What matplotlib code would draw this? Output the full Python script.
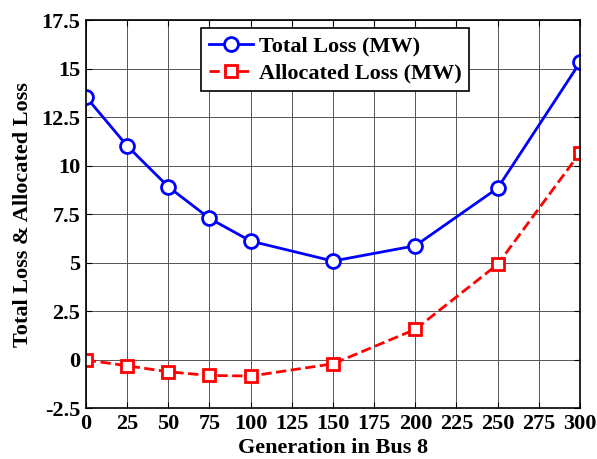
import matplotlib
matplotlib.use("Agg")
import matplotlib.pyplot as plt

gen = [0, 25, 50, 75, 100, 150, 200, 250, 300]
total_loss = [13.55, 11.02, 8.91, 7.28, 6.11, 5.08, 5.87, 8.84, 15.32]
allocated_loss = [-0.02, -0.32, -0.63, -0.82, -0.85, -0.22, 1.56, 4.91, 10.66]
xticks = list(range(0, 301, 25))
yticks = [-2.5, 0, 2.5, 5, 7.5, 10, 12.5, 15, 17.5]
ytick_labels = ["-2.5", "0", "2.5", "5", "7.5", "10", "12.5", "15", "17.5"]

plt.rcParams['font.family'] = ['Liberation Serif', 'DejaVu Serif']
plt.rcParams['font.weight'] = 'bold'

fig = plt.figure(figsize=(5.97, 4.59), dpi=100)
ax = fig.add_axes([0.144, 0.111, 0.8275, 0.845])

ax.plot(gen, total_loss, '-o', color='#0000ff', lw=2, ms=10, mfc='white', mew=2,
        label='Total Loss (MW)')
ax.plot(gen, allocated_loss, '--s', color='#ff0000', lw=2, ms=9, mfc='white', mew=2,
        label='Allocated Loss (MW)')

ax.set_xlim(0, 300)
ax.set_ylim(-2.5, 17.5)
ax.set_xticks(xticks)
ax.set_yticks(yticks)
ax.set_yticklabels(ytick_labels)
ax.tick_params(direction='in', top=True, right=True, labelsize=16, length=4, pad=4)
for lab in ax.get_xticklabels() + ax.get_yticklabels():
    lab.set_fontweight('bold')
ax.grid(True, color='#555555', lw=0.7)
for s in ax.spines.values():
    s.set_linewidth(1.2)

ax.set_xlabel('Generation in Bus 8', fontsize=16, fontweight='bold', labelpad=3)
ax.set_ylabel('Total Loss & Allocated Loss', fontsize=16, fontweight='bold', labelpad=6)

leg = ax.legend(loc='upper left', bbox_to_anchor=(0.233, 0.98),
                prop={'weight': 'bold', 'size': 16}, fancybox=False, framealpha=1,
                edgecolor='black', borderpad=0.35, handlelength=2.0, labelspacing=0.3,
                handletextpad=0.25, borderaxespad=0)
leg.get_frame().set_linewidth(1.2)

fig.savefig('out.png', dpi=100)
